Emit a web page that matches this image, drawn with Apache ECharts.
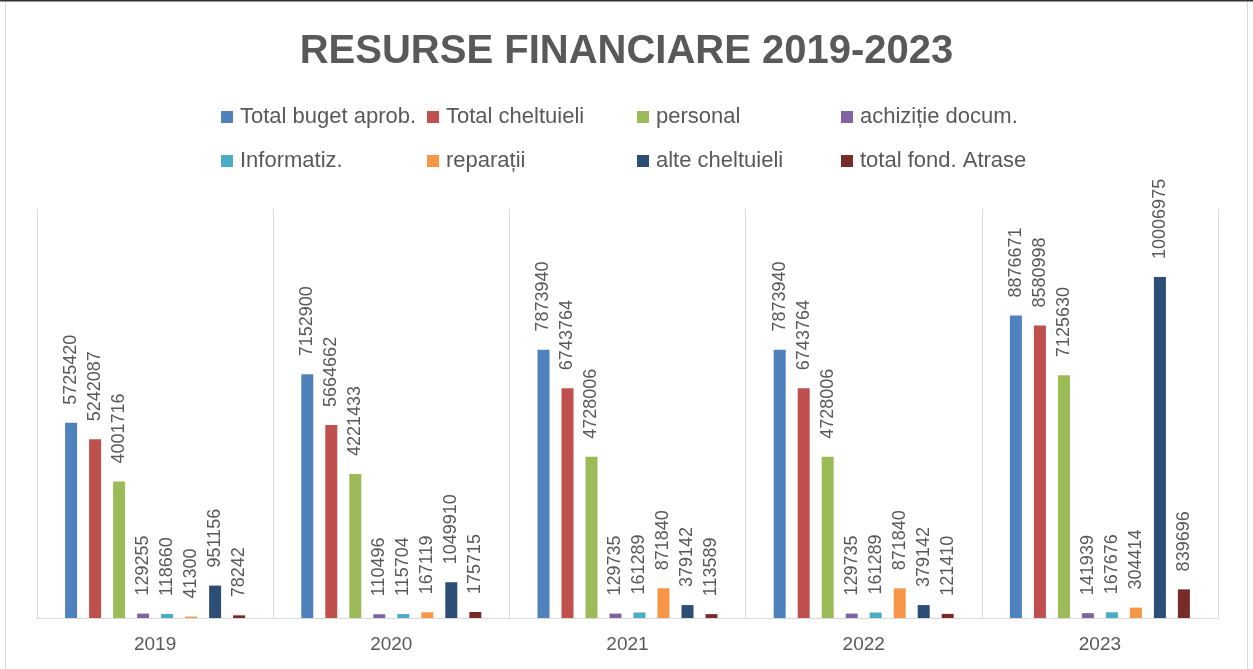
<!DOCTYPE html>
<html>
<head>
<meta charset="utf-8">
<script src="https://cdn.jsdelivr.net/npm/echarts@6/dist/echarts.min.js"></script>
<style>
html,body{margin:0;padding:0;background:#fff;}
#chart{width:1253px;height:669px;}
</style>
</head>
<body>
<div id="chart"></div>
<script>
const categories = ['2019', '2020', '2021', '2022', '2023'];
const seriesNames = ['Total buget aprob.', 'Total cheltuieli', 'personal', 'achiziție docum.', 'Informatiz.', 'reparații', 'alte cheltuieli', 'total fond. Atrase'];
const totalBuget = [5725420, 7152900, 7873940, 7873940, 8876671];
const totalCheltuieli = [5242087, 5664662, 6743764, 6743764, 8580998];
const personal = [4001716, 4221433, 4728006, 4728006, 7125630];
const achizitie = [129255, 110496, 129735, 129735, 141939];
const informatiz = [118660, 115704, 161289, 161289, 167676];
const reparatii = [41300, 167119, 871840, 871840, 304414];
const alteCheltuieli = [951156, 1049910, 379142, 379142, 10006975];
const totalFond = [78242, 175715, 113589, 121410, 839696];
const colors = ['#4F81BD', '#C0504D', '#9BBB59', '#8064A2', '#4BACC6', '#F79646', '#2C4D75', '#772C2A'];
const allValues = [totalBuget, totalCheltuieli, personal, achizitie, informatiz, reparatii, alteCheltuieli, totalFond];

const legendLeft = [221, 427, 637, 841];
const legendTop = [106, 150];

const chart = echarts.init(document.getElementById('chart'));
const textColor = '#595959';

const legends = seriesNames.map((n, i) => ({
  data: [n],
  left: legendLeft[i % 4],
  top: legendTop[Math.floor(i / 4)],
  icon: 'rect',
  itemWidth: 12,
  itemHeight: 12,
  padding: 0,
  textStyle: { fontFamily: 'Liberation Sans', fontSize: 22, color: textColor, padding: [0, 0, 0, 2] },
  selectedMode: false
}));

const series = seriesNames.map((n, i) => ({
  name: n,
  type: 'bar',
  data: allValues[i],
  barWidth: 12,
  barGap: '100%',
  itemStyle: { color: colors[i] },
  label: {
    show: true,
    position: 'top',
    rotate: 90,
    align: 'left',
    verticalAlign: 'middle',
    distance: 18,
    fontFamily: 'Liberation Sans',
    fontSize: 18,
    color: textColor
  }
}));

chart.setOption({
  animation: false,
  backgroundColor: '#fff',
  graphic: [
    { type: 'rect', shape: { x: 5.5, y: 0.5, width: 1242, height: 700 }, style: { fill: 'none', stroke: '#d9d9d9', lineWidth: 1 }, silent: true },
    { type: 'line', shape: { x1: 0, y1: 0.5, x2: 1253, y2: 0.5 }, style: { stroke: '#333', lineWidth: 2 }, silent: true }
  ],
  title: {
    text: 'RESURSE FINANCIARE 2019-2023',
    left: 'center',
    top: 27,
    textStyle: { fontFamily: 'Liberation Sans', fontSize: 40, fontWeight: 'bold', color: textColor }
  },
  legend: legends,
  grid: { left: 37, right: 35, top: 209, bottom: 51, containLabel: false },
  xAxis: {
    type: 'category',
    data: categories,
    axisLine: { lineStyle: { color: '#d9d9d9', width: 1 } },
    axisTick: { show: false },
    splitLine: { show: true, lineStyle: { color: '#d9d9d9', width: 1 } },
    axisLabel: { margin: 17, fontFamily: 'Liberation Sans', fontSize: 19, color: textColor }
  },
  yAxis: { type: 'value', min: 0, max: 12000000, show: false, splitLine: { show: false } },
  series: series
});
</script>
</body>
</html>
